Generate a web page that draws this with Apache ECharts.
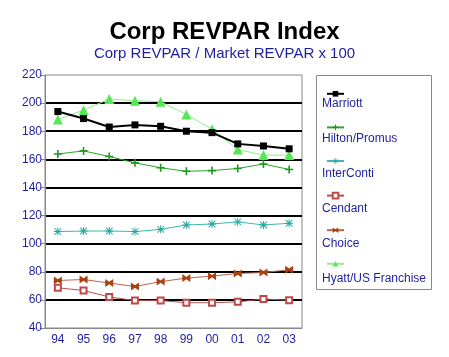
<!DOCTYPE html>
<html><head><meta charset="utf-8">
<script src="https://cdn.jsdelivr.net/npm/echarts@6/dist/echarts.min.js"></script>
<style>html,body{margin:0;padding:0;background:#fff}#c{width:449px;height:357px}</style>
</head><body><div id="c"></div>
<script>
var years = ['94','95','96','97','98','99','00','01','02','03'];
var seriesNames = ['Marriott','Hilton/Promus','InterConti','Cendant','Choice','Hyatt/US Franchise'];
var marriott = [194, 189, 183, 184.5, 183.5, 180, 179, 171, 169.5, 167.5];
var hilton = [163.8, 166, 162, 157.5, 154, 151.5, 152, 153.5, 156.7, 152.8];
var interConti = [108.6, 109, 109, 108.6, 110.2, 113.3, 114, 115.5, 113.3, 114.5];
var cendant = [68.6, 66.7, 62.1, 59.5, 59.5, 58, 58, 58.6, 60.6, 59.8];
var choice = [73.8, 74.5, 72, 69.5, 73, 75.5, 76.9, 78.8, 79.5, 81.4];
var hyatt = [188.3, 195, 202.9, 201.7, 201, 191.9, 181.4, 167, 163, 163];
var yTicks = {min: 40, max: 220, step: 20};

var FONT = 'Arial, "Liberation Sans", sans-serif';
var BLUE = '#1e1ea0';
var plusPath = 'path://M4,0H6V4H10V6H6V10H4V6H0V4H4Z';
var starPath = 'path://M4.4,0H5.6V10H4.4Z M0,4.4H10V5.6H0Z M1.2,0.4L9.6,8.8L8.8,9.6L0.4,1.2Z M8.8,0.4L9.6,1.2L1.2,9.6L0.4,8.8Z';
var bowPath = 'path://M0,0L5,3.5L10,0L10,10L5,6.5L0,10Z';

var styles = [
  {data: marriott, color: '#000000', line: '#000000', w: 2, symbol: 'rect', size: 7},
  {data: hilton, color: '#1a9a1a', line: '#2aa52a', w: 1, symbol: plusPath, size: 8},
  {data: interConti, color: '#20a8a0', line: '#40b8b0', w: 1, symbol: starPath, size: 8},
  {data: cendant, color: '#c04848', line: '#b85050', w: 1, symbol: 'emptyRect', size: 6},
  {data: choice, color: '#a84010', line: '#b86848', w: 1, symbol: bowPath, size: 8},
  {data: hyatt, color: '#55e855', line: '#90ee90', w: 1, symbol: 'triangle', size: 10}
];

var series = styles.map(function (s, i) {
  return {
    name: seriesNames[i], type: 'line', data: s.data,
    symbol: s.symbol, symbolSize: s.size, showAllSymbol: true,
    itemStyle: {color: s.color, borderColor: s.color, borderWidth: s.symbol === 'emptyRect' ? 1 : 0},
    lineStyle: {color: s.line, width: s.w},
    z: i === 0 ? 5 : 3,
    animation: false
  };
});

var legendTexts = seriesNames.map(function (n, i) {
  return {type: 'text', left: 322, top: 98 + i * 35,
    style: {text: n, font: '12px ' + FONT, fill: BLUE}};
});

var chart = echarts.init(document.getElementById('c'), null, {renderer: 'canvas'});
chart.setOption({
  animation: false,
  backgroundColor: '#fff',
  title: [
    {text: 'Corp REVPAR Index', left: 'center', top: 15,
     textStyle: {fontFamily: FONT, fontSize: 24, fontWeight: 'bold', color: '#000'}},
    {text: 'Corp REVPAR / Market REVPAR x 100', left: 'center', top: 41,
     textStyle: {fontFamily: FONT, fontSize: 15, fontWeight: 'normal', color: BLUE}}
  ],
  grid: {left: 45, right: 147, top: 75, bottom: 29, show: true, borderColor: '#888', borderWidth: 1},
  xAxis: {
    type: 'category', data: years, boundaryGap: true,
    axisLine: {lineStyle: {color: '#888'}},
    axisTick: {show: false},
    axisLabel: {color: BLUE, fontFamily: FONT, fontSize: 12, margin: 6}
  },
  yAxis: {
    type: 'value', min: yTicks.min, max: yTicks.max, interval: yTicks.step,
    axisLine: {show: true, lineStyle: {color: '#888'}},
    axisTick: {show: true, length: 4, lineStyle: {color: '#888'}},
    axisLabel: {color: BLUE, fontFamily: FONT, fontSize: 12, margin: 3},
    splitLine: {show: true, showMinLine: false, showMaxLine: false, lineStyle: {color: '#000', width: 2}}
  },
  legend: {
    orient: 'vertical', left: 321, top: 86, itemWidth: 17, itemHeight: 7, itemGap: 28,
    formatter: function () { return ''; },
    textStyle: {fontSize: 7, lineHeight: 7},
    selectedMode: false
  },
  graphic: [
    {type: 'rect', shape: {x: 316.5, y: 75.5, width: 115, height: 214},
     style: {fill: 'none', stroke: '#888', lineWidth: 1}}
  ].concat(legendTexts),
  series: series
});
</script></body></html>
